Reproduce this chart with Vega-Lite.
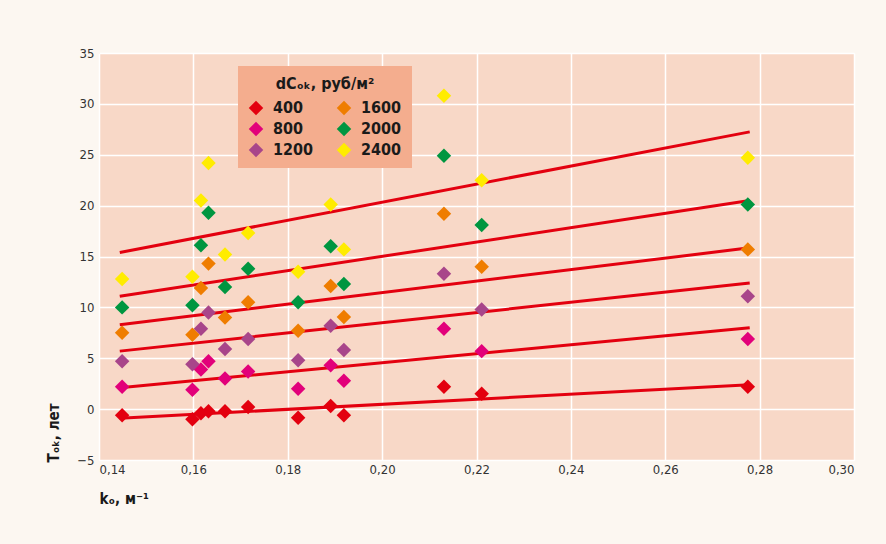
{
  "$schema": "https://vega.github.io/schema/vega-lite/v6.json",
  "autosize": "none",
  "width": 755,
  "height": 407,
  "padding": {"left": 99, "top": 53, "right": 32, "bottom": 84},
  "background": "#fcf7f1",
  "config": {
    "view": {"fill": "#f8d8c7", "stroke": null},
    "font": "Liberation Sans Narrow, DejaVu Sans Condensed, Roboto, sans-serif",
    "axis": {
      "domain": false,
      "ticks": false,
      "grid": true,
      "gridColor": "#ffffff",
      "gridWidth": 1.5,
      "gridOpacity": 1,
      "labelFont": "Liberation Sans Narrow, DejaVu Sans Condensed, Roboto, sans-serif",
      "labelFontSize": 13,
      "labelColor": "#333333",
      "titleFont": "Liberation Sans Narrow, DejaVu Sans Condensed, Roboto, sans-serif",
      "titleFontSize": 15,
      "titleFontWeight": "bold",
      "titleColor": "#1a1a1a"
    }
  },
  "datasets": {
    "points": [
      {"k": 0.1449, "T": -0.6, "dC": "400"},
      {"k": 0.1598, "T": -1.0, "dC": "400"},
      {"k": 0.1616, "T": -0.4, "dC": "400"},
      {"k": 0.1632, "T": -0.2, "dC": "400"},
      {"k": 0.1667, "T": -0.2, "dC": "400"},
      {"k": 0.1716, "T": 0.2, "dC": "400"},
      {"k": 0.1822, "T": -0.85, "dC": "400"},
      {"k": 0.1891, "T": 0.3, "dC": "400"},
      {"k": 0.1919, "T": -0.6, "dC": "400"},
      {"k": 0.2131, "T": 2.2, "dC": "400"},
      {"k": 0.2211, "T": 1.5, "dC": "400"},
      {"k": 0.2775, "T": 2.2, "dC": "400"},

      {"k": 0.1449, "T": 2.2, "dC": "800"},
      {"k": 0.1598, "T": 1.9, "dC": "800"},
      {"k": 0.1616, "T": 3.9, "dC": "800"},
      {"k": 0.1632, "T": 4.7, "dC": "800"},
      {"k": 0.1667, "T": 3.0, "dC": "800"},
      {"k": 0.1716, "T": 3.7, "dC": "800"},
      {"k": 0.1822, "T": 2.0, "dC": "800"},
      {"k": 0.1891, "T": 4.3, "dC": "800"},
      {"k": 0.1919, "T": 2.8, "dC": "800"},
      {"k": 0.2131, "T": 7.9, "dC": "800"},
      {"k": 0.2211, "T": 5.7, "dC": "800"},
      {"k": 0.2775, "T": 6.9, "dC": "800"},

      {"k": 0.1449, "T": 4.7, "dC": "1200"},
      {"k": 0.1598, "T": 4.4, "dC": "1200"},
      {"k": 0.1616, "T": 7.9, "dC": "1200"},
      {"k": 0.1632, "T": 9.5, "dC": "1200"},
      {"k": 0.1667, "T": 5.9, "dC": "1200"},
      {"k": 0.1716, "T": 6.9, "dC": "1200"},
      {"k": 0.1822, "T": 4.8, "dC": "1200"},
      {"k": 0.1891, "T": 8.2, "dC": "1200"},
      {"k": 0.1919, "T": 5.8, "dC": "1200"},
      {"k": 0.2131, "T": 13.3, "dC": "1200"},
      {"k": 0.2211, "T": 9.8, "dC": "1200"},
      {"k": 0.2775, "T": 11.1, "dC": "1200"},

      {"k": 0.1449, "T": 7.5, "dC": "1600"},
      {"k": 0.1598, "T": 7.3, "dC": "1600"},
      {"k": 0.1616, "T": 11.9, "dC": "1600"},
      {"k": 0.1632, "T": 14.3, "dC": "1600"},
      {"k": 0.1667, "T": 9.0, "dC": "1600"},
      {"k": 0.1716, "T": 10.5, "dC": "1600"},
      {"k": 0.1822, "T": 7.7, "dC": "1600"},
      {"k": 0.1891, "T": 12.1, "dC": "1600"},
      {"k": 0.1919, "T": 9.05, "dC": "1600"},
      {"k": 0.2131, "T": 19.2, "dC": "1600"},
      {"k": 0.2211, "T": 14.0, "dC": "1600"},
      {"k": 0.2775, "T": 15.7, "dC": "1600"},

      {"k": 0.1449, "T": 10.0, "dC": "2000"},
      {"k": 0.1598, "T": 10.2, "dC": "2000"},
      {"k": 0.1616, "T": 16.1, "dC": "2000"},
      {"k": 0.1632, "T": 19.3, "dC": "2000"},
      {"k": 0.1667, "T": 12.0, "dC": "2000"},
      {"k": 0.1716, "T": 13.8, "dC": "2000"},
      {"k": 0.1822, "T": 10.5, "dC": "2000"},
      {"k": 0.1891, "T": 16.0, "dC": "2000"},
      {"k": 0.1919, "T": 12.3, "dC": "2000"},
      {"k": 0.2131, "T": 24.9, "dC": "2000"},
      {"k": 0.2211, "T": 18.1, "dC": "2000"},
      {"k": 0.2775, "T": 20.1, "dC": "2000"},

      {"k": 0.1449, "T": 12.8, "dC": "2400"},
      {"k": 0.1598, "T": 13.0, "dC": "2400"},
      {"k": 0.1616, "T": 20.5, "dC": "2400"},
      {"k": 0.1632, "T": 24.2, "dC": "2400"},
      {"k": 0.1667, "T": 15.2, "dC": "2400"},
      {"k": 0.1716, "T": 17.3, "dC": "2400"},
      {"k": 0.1822, "T": 13.5, "dC": "2400"},
      {"k": 0.1891, "T": 20.1, "dC": "2400"},
      {"k": 0.1919, "T": 15.7, "dC": "2400"},
      {"k": 0.2131, "T": 30.8, "dC": "2400"},
      {"k": 0.2211, "T": 22.5, "dC": "2400"},
      {"k": 0.2775, "T": 24.7, "dC": "2400"}
    ],
    "trend": [
      {"k": 0.1444, "T": -0.9, "dC": "400"},
      {"k": 0.2779, "T": 2.4, "dC": "400"},
      {"k": 0.1444, "T": 2.1, "dC": "800"},
      {"k": 0.2779, "T": 8.0, "dC": "800"},
      {"k": 0.1444, "T": 5.7, "dC": "1200"},
      {"k": 0.2779, "T": 12.4, "dC": "1200"},
      {"k": 0.1444, "T": 8.3, "dC": "1600"},
      {"k": 0.2779, "T": 15.85, "dC": "1600"},
      {"k": 0.1444, "T": 11.1, "dC": "2000"},
      {"k": 0.2779, "T": 20.5, "dC": "2000"},
      {"k": 0.1444, "T": 15.4, "dC": "2400"},
      {"k": 0.2779, "T": 27.25, "dC": "2400"}
    ]
  },
  "encoding": {
    "x": {
      "field": "k",
      "type": "quantitative",
      "scale": {"domain": [0.14, 0.3], "nice": false, "zero": false},
      "axis": {
        "values": [0.14, 0.16, 0.18, 0.2, 0.22, 0.24, 0.26, 0.28, 0.3],
        "labelExpr": "replace(format(datum.value, '.2f'), '.', ',')",
        "labelPadding": 3,
        "title": "kₒ, м⁻¹",
        "titleAnchor": "start",
        "titleAlign": "left",
        "titleBaseline": "middle",
        "titleX": 0,
        "titleY": 38
      }
    },
    "y": {
      "field": "T",
      "type": "quantitative",
      "scale": {"domain": [-5, 35], "nice": false, "zero": false},
      "axis": {
        "values": [-5, 0, 5, 10, 15, 20, 25, 30, 35],
        "labelPadding": 5,
        "title": "Tₒₖ, лет",
        "titleAngle": -90,
        "titleAlign": "left",
        "titleBaseline": "middle",
        "titleX": -46,
        "titleY": 409
      }
    }
  },
  "layer": [
    {
      "data": {"name": "trend"},
      "mark": {"type": "line", "color": "#e3000f", "strokeWidth": 3, "strokeCap": "butt"},
      "encoding": {"detail": {"field": "dC", "type": "nominal"}}
    },
    {
      "data": {"name": "points"},
      "mark": {"type": "point", "shape": "diamond", "filled": true, "opacity": 1, "size": 210, "strokeWidth": 0},
      "encoding": {
        "color": {
          "field": "dC",
          "type": "nominal",
          "scale": {
            "domain": ["400", "800", "1200", "1600", "2000", "2400"],
            "range": ["#e3000f", "#e2007a", "#a8458a", "#ef7d00", "#009640", "#ffec00"]
          },
          "legend": {
            "orient": "none",
            "legendX": 139,
            "legendY": 13,
            "columns": 2,
            "columnPadding": 22,
            "rowPadding": 5,
            "symbolType": "diamond",
            "symbolSize": 210,
            "symbolStrokeWidth": 0,
            "symbolOpacity": 1,
            "labelOffset": 9,
            "labelFontSize": 16,
            "labelFontWeight": "bold",
            "labelColor": "#1a1a1a",
            "title": "dCₒₖ, руб/м²",
            "titleFontSize": 16,
            "titleFontWeight": "bold",
            "titleColor": "#1a1a1a",
            "titleAnchor": "middle",
            "titlePadding": 8,
            "fillColor": "#f4ad8e",
            "padding": 10
          }
        }
      }
    }
  ]
}
